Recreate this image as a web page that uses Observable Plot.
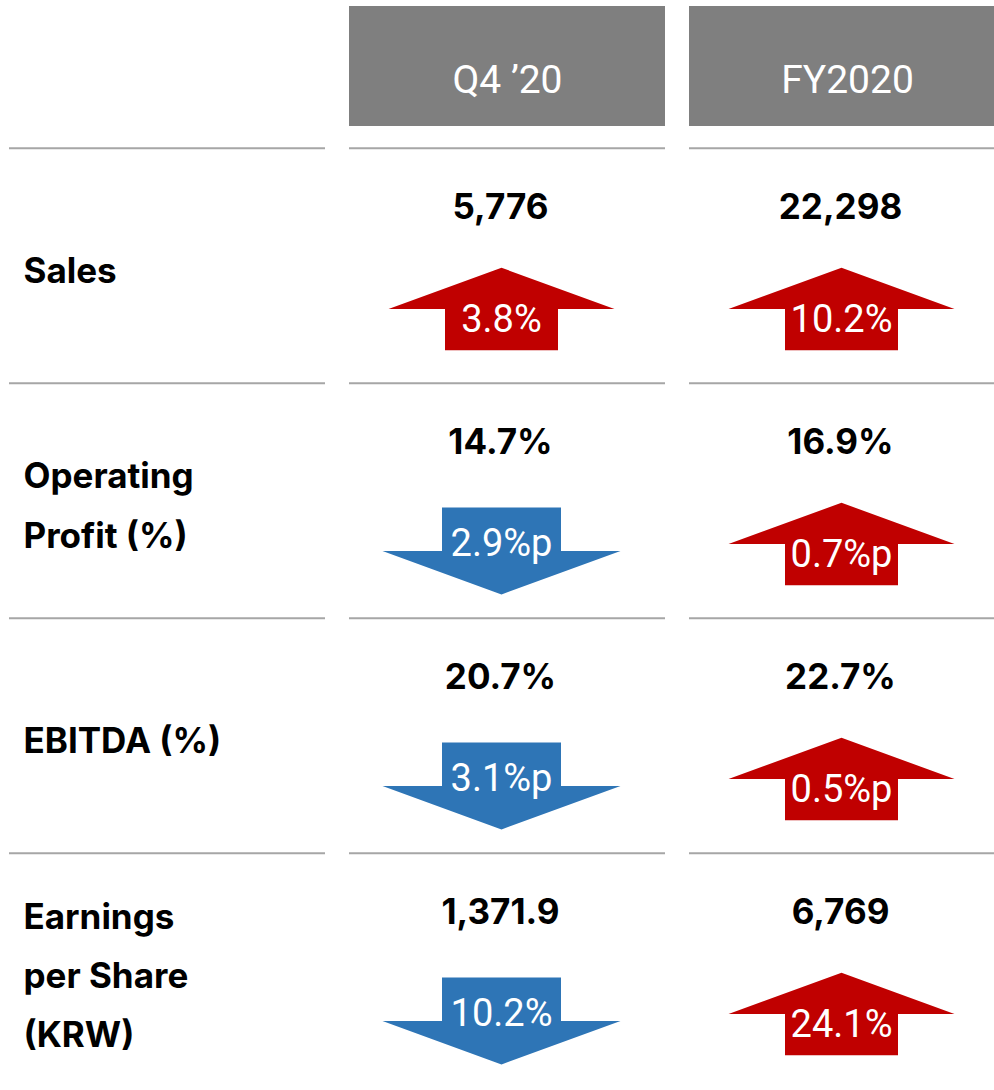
<!DOCTYPE html>
<html>
<head>
<meta charset="utf-8">
<script src="https://cdn.jsdelivr.net/npm/d3@7"></script>
<script src="https://cdn.jsdelivr.net/npm/@observablehq/plot@0.6"></script>
<style>
  html, body { margin: 0; padding: 0; background: white; overflow: hidden; }
</style>
</head>
<body>
<div id="chart"></div>
<script>
// ---- data ----
const columns = ["Q4 ’20", "FY2020"];
const metrics = ["Sales", "Operating\nProfit (%)", "EBITDA (%)", "Earnings\nper Share\n(KRW)"];
const valueUnits = ["", "%", "%", ""];
const q4Values = [5776, 14.7, 20.7, 1371.9];
const fyValues = [22298, 16.9, 22.7, 6769];
const changeUnits = ["%", "%p", "%p", "%"];
const q4Changes = [3.8, -2.9, -3.1, -10.2];
const fyChanges = [10.2, 0.7, 0.5, 24.1];

// ---- derived tables ----
const allColumns = ["", ...columns];
const valuesByColumn = {[columns[0]]: q4Values, [columns[1]]: fyValues};
const changesByColumn = {[columns[0]]: q4Changes, [columns[1]]: fyChanges};
const cells = metrics.flatMap((m, i) => columns.map(c => ({
  metric: m,
  column: c,
  value: valuesByColumn[c][i],
  valueUnit: valueUnits[i],
  change: changesByColumn[c][i],
  changeUnit: changeUnits[i]
})));
const gridLines = metrics.flatMap(m => allColumns.map(c => ({metric: m, column: c})));
const fmt = d3.format(",");

// ---- custom block-arrow symbols ----
function blockArrow(direction) {
  return {
    draw(context, size) {
      const r = Math.sqrt(size / Math.PI); // half width of the head
      const hw = 0.5 * r;                  // half width of the shaft
      const H = 0.365 * r;                 // half total height
      const s = direction;                 // -1 up, +1 down
      context.moveTo(0, s * H);
      context.lineTo(r, 0);
      context.lineTo(hw, 0);
      context.lineTo(hw, -s * H);
      context.lineTo(-hw, -s * H);
      context.lineTo(-hw, 0);
      context.lineTo(-r, 0);
      context.closePath();
    }
  };
}
const arrowUp = blockArrow(-1);
const arrowDown = blockArrow(1);

const ups = cells.filter(d => d.change >= 0);
const downs = cells.filter(d => d.change < 0);
const changeText = d => Math.abs(d.change).toFixed(1) + d.changeUnit;

const plot = Plot.plot({
  width: 994,
  height: 1090,
  margin: 0,
  style: {fontFamily: "Inter, 'Noto Sans', sans-serif", background: "white"},
  x: {type: "band", domain: allColumns, range: [8, 1005], paddingInner: 0.072, paddingOuter: 0, axis: null},
  y: {type: "band", domain: metrics, range: [146.2, 1089], paddingInner: 0, paddingOuter: 0, axis: null},
  marks: [
    // header boxes
    Plot.cell(columns, {x: d => d, fill: "#7f7f7f", insetTop: 6, insetBottom: 964}),
    Plot.text(columns, {x: d => d, text: d => d, frameAnchor: "top", dy: 65, fill: "white",
      fontSize: 39, fontFamily: "Roboto", fontWeight: 400}),
    // row separator lines
    Plot.tickY(gridLines, {x: "column", y: "metric", dy: -117.85, stroke: "#a6a6a6", strokeWidth: 2}),
    // row labels
    Plot.text(metrics, {y: d => d, text: d => d, frameAnchor: "left", textAnchor: "start", dx: 23, dy: -2,
      fontSize: 35, fontWeight: "bold", lineHeight: 1.69, fill: "black"}),
    // values
    Plot.text(cells, {x: "column", y: "metric", text: d => fmt(d.value) + d.valueUnit, dx: -7, dy: -58,
      fontSize: 35, fontWeight: "bold", fill: "black"}),
    // arrows
    Plot.dot(ups, {x: "column", y: "metric", r: 113, symbol: arrowUp, fill: "#c00000", stroke: null, dx: -6, dy: 43}),
    Plot.dot(downs, {x: "column", y: "metric", r: 119, symbol: arrowDown, fill: "#2e75b6", stroke: null, dx: -6, dy: 50}),
    // arrow labels
    Plot.text(ups, {x: "column", y: "metric", text: changeText, dx: -6, dy: 54, fill: "white",
      fontSize: 38, fontFamily: "Roboto"}),
    Plot.text(downs, {x: "column", y: "metric", text: changeText, dx: -6, dy: 42.5, fill: "white",
      fontSize: 38, fontFamily: "Roboto"})
  ]
});
document.getElementById("chart").appendChild(plot);
</script>
</body>
</html>
